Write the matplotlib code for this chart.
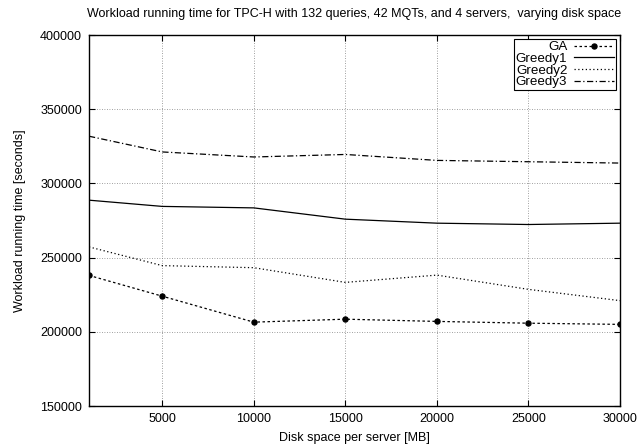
import matplotlib
matplotlib.use("Agg")
import matplotlib.pyplot as plt

# disk space per server (MB)
disk_space = [1000, 5000, 10000, 15000, 20000, 25000, 30000]

# workload running time (seconds)
ga = [238000, 224000, 206500, 208500, 207000, 205800, 205000]
greedy1 = [288700, 284500, 283500, 275900, 273200, 272300, 273200]
greedy2 = [257200, 244600, 243200, 233300, 238200, 228600, 221000]
greedy3 = [331800, 321200, 317800, 319500, 315500, 314600, 313700]

x_ticks = [5000, 10000, 15000, 20000, 25000, 30000]
y_ticks = [150000, 200000, 250000, 300000, 350000, 400000]

plt.rcParams['font.family'] = ['Liberation Sans', 'DejaVu Sans']
plt.rcParams['font.size'] = 9

fig = plt.figure(figsize=(6.41, 4.44), dpi=100)
ax = fig.add_axes([89 / 641, 1 - 406 / 444, (620 - 89) / 641, (406 - 35) / 444])

ax.plot(disk_space, ga, color='black', lw=0.9, linestyle=(0, (2, 2)),
        marker='o', markersize=3.6, label='GA')
ax.plot(disk_space, greedy1, color='black', lw=0.9, linestyle='-', label='Greedy1')
ax.plot(disk_space, greedy2, color='black', lw=0.9, linestyle=(0, (1, 2)), label='Greedy2')
ax.plot(disk_space, greedy3, color='black', lw=0.9, linestyle=(0, (5, 2, 1, 2)), label='Greedy3')

ax.set_xlim(1000, 30000)
ax.set_ylim(150000, 400000)
ax.set_xticks(x_ticks)
ax.set_yticks(y_ticks)
ax.tick_params(direction='in', top=True, right=True, length=4, width=0.8,
               labelsize=9, pad=5)
ax.grid(True, color='gray', linestyle=(0, (1, 2)), linewidth=0.6)
for s in ax.spines.values():
    s.set_linewidth(1.0)

ax.set_xlabel('Disk space per server [MB]', fontsize=9, labelpad=5)
ax.set_ylabel('Workload running time [seconds]', fontsize=9, labelpad=10)
ax.set_title('Workload running time for TPC-H with 132 queries, 42 MQTs, and 4 servers,  varying disk space',
             fontsize=9, pad=13)

leg = ax.legend(loc='upper right', markerfirst=False, fancybox=False,
                edgecolor='black', framealpha=1, fontsize=9.6,
                handlelength=3.0, handletextpad=0.5, labelspacing=-0.05,
                borderpad=0.15, borderaxespad=0.3)
leg.get_frame().set_linewidth(0.8)

fig.savefig('out.png', dpi=100)
